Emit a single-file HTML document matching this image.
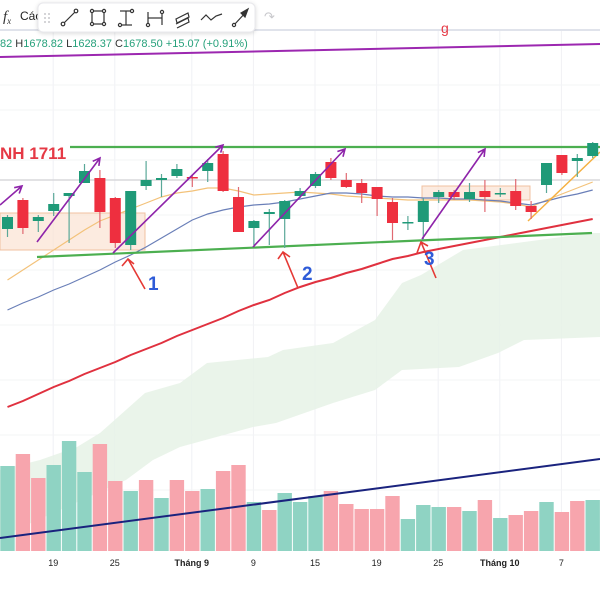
<!DOCTYPE html>
<html><head><meta charset="utf-8">
<style>
html,body{margin:0;padding:0;background:#fff;width:600px;height:600px;overflow:hidden;font-family:"Liberation Sans",sans-serif;}
#wrap{position:relative;width:600px;height:600px;}
svg{position:absolute;left:0;top:0;}
</style></head>
<body>
<div id="wrap">
<svg id="chart" width="600" height="600" viewBox="0 0 600 600">
  <g id="grid"></g>
  <polygon fill="#e6f2e6" opacity="0.85"
    points="600,233 592,233 463,250 421,275 402,283 375,320 333,343 283,350 268,357 207,363 180,383 145,393 100,433 77,447 40,460 0,470 0,537 60,510 126,480 153,460 180,447 253,427 276,423 333,403 375,390 402,370 459,367 498,353 524,340 600,337"/>
  <g id="volumes"></g>
  <line x1="0" y1="538" x2="600" y2="459" stroke="#1a237e" stroke-width="2"/>
  <rect x="0" y="213" width="145" height="37" fill="#fbe3d3" fill-opacity="0.7" stroke="#f0c0a0" stroke-width="1"/>
  <rect x="422" y="186" width="108" height="14" fill="#fbe3d3" fill-opacity="0.7" stroke="#f0c0a0" stroke-width="1"/>
  <line x1="0" y1="180" x2="600" y2="180" stroke="#d8d8dc" stroke-width="1.5"/>
  <g id="mas"></g>
  <line x1="70" y1="147" x2="600" y2="147" stroke="#4caf50" stroke-width="2.2"/>
  <line x1="37" y1="257" x2="592" y2="233" stroke="#4caf50" stroke-width="2.2"/>
  <line x1="0" y1="57" x2="600" y2="44" stroke="#9c27b0" stroke-width="2"/>
  <line x1="528" y1="221" x2="600" y2="152" stroke="#f5b041" stroke-width="1.5"/>
  <g id="candles"></g>
  <g id="arrows" stroke="#8e24aa" stroke-width="1.6" fill="none"></g>
  <g stroke="#e53935" stroke-width="1.6" fill="none">
    <path d="M145,289 L128,259 M122,266 L128,259 L134,264"/>
    <path d="M298,288 L283,252 M278,259 L283,252 L290,257"/>
    <path d="M436,278 L421,242 M417,253 L421,242 L428,246"/>
  </g>
  <text x="148" y="290" font-size="19" font-weight="bold" fill="#2e5bd8">1</text>
  <text x="302" y="280" font-size="19" font-weight="bold" fill="#2e5bd8">2</text>
  <text x="424" y="265" font-size="19" font-weight="bold" fill="#2e5bd8">3</text>
  <text x="0" y="159" font-size="17" font-weight="bold" fill="#e53945">NH 1711</text>
  <g id="xaxis"></g>
  <line x1="0" y1="30" x2="600" y2="30" stroke="#e0e3eb" stroke-width="2"/>
  <rect x="0" y="0" width="600" height="29" fill="#fff"/>
  <text x="441" y="33" font-size="14" fill="#e53945">g</text>
  <text x="3" y="21" font-size="15" fill="#333" font-family="Liberation Serif" font-style="italic">f<tspan font-size="9" dy="3">x</tspan></text>
  <text x="20" y="20" font-size="12" fill="#222">Các</text>
  <g>
    <rect x="38" y="3" width="217" height="29" rx="5" fill="#fff" stroke="#e8e8ec" filter="drop-shadow(0 1px 2px rgba(0,0,0,0.15))"/>
    <g fill="#c8c8cc"><circle cx="45" cy="14" r="1"/><circle cx="49" cy="14" r="1"/><circle cx="45" cy="18" r="1"/><circle cx="49" cy="18" r="1"/><circle cx="45" cy="22" r="1"/><circle cx="49" cy="22" r="1"/></g>
    <g stroke="#333" stroke-width="1.2" fill="#fff">
      <g><line x1="63" y1="24" x2="76" y2="11"/><circle cx="63" cy="24" r="1.8"/><circle cx="76" cy="11" r="1.8"/></g>
      <g><rect x="92" y="11" width="12" height="13" fill="none"/><circle cx="92" cy="11" r="1.6"/><circle cx="104" cy="11" r="1.6"/><circle cx="92" cy="24" r="1.6"/><circle cx="104" cy="24" r="1.6"/></g>
      <g><line x1="120" y1="11" x2="132" y2="11"/><line x1="120" y1="25" x2="132" y2="25"/><line x1="126" y1="11" x2="126" y2="25"/><circle cx="132" cy="11" r="1.6"/><circle cx="120" cy="25" r="1.6"/></g>
      <g><line x1="148" y1="12" x2="148" y2="25"/><line x1="162" y1="12" x2="162" y2="25"/><line x1="148" y1="18" x2="162" y2="18"/><circle cx="148" cy="25" r="1.6"/><circle cx="162" cy="12" r="1.6"/></g>
      <g fill="none"><path d="M176,19 L188,13 L189,17 L177,23 Z M176,24 L188,18 L189,22 L177,28"/></g>
      <g fill="none"><path d="M201,20 L206,15 L211,20 L216,16 L222,14"/></g>
      <g><line x1="234" y1="25" x2="247" y2="11"/><circle cx="234" cy="25" r="1.6"/><path d="M241,13 L248,9 L245,17 Z" fill="#333"/></g>
    </g>
  </g>
  <text x="264" y="21" font-size="13" fill="#c8c8cc">↷</text>
  <text x="0" y="47" font-size="11" fill="#26a17b">82 <tspan fill="#333">H</tspan>1678.82 <tspan fill="#333">L</tspan>1628.37 <tspan fill="#333">C</tspan>1678.50 +15.07 (+0.91%)</text>
</svg>
</div>
<script>
const opens  = [1571,1600,1579,1589,1604,1617,1622,1602,1555,1614,1620,1624,1623,1629,1646,1603,1572,1586,1581,1604,1614,1638,1620,1617,1613,1598,1577,1578,1603,1608,1601,1609,1606,1609,1594,1615,1645,1639,1644];
const highs  = [1585,1602,1585,1607,1607,1636,1630,1603,1609,1639,1626,1636,1625,1641,1649,1613,1580,1591,1600,1612,1628,1642,1627,1621,1613,1602,1584,1602,1610,1610,1617,1620,1612,1621,1599,1637,1645,1646,1658];
const lows   = [1563,1566,1568,1584,1557,1617,1572,1552,1550,1610,1603,1622,1613,1618,1608,1568,1555,1555,1552,1602,1612,1620,1612,1597,1584,1560,1570,1560,1597,1600,1598,1588,1603,1590,1581,1607,1625,1623,1642];
const closes = [1583,1572,1583,1596,1607,1629,1588,1557,1609,1620,1622,1631,1622,1637,1609,1568,1579,1588,1599,1609,1626,1622,1613,1607,1601,1577,1578,1599,1608,1603,1608,1603,1607,1594,1588,1637,1627,1642,1657];
const volumes = [85,97,73,86,110,79,107,70,60,71,53,71,60,62,80,86,49,41,58,49,55,60,47,42,42,55,32,46,44,44,40,51,33,36,40,49,39,50,51];
const volumeUp = [1,0,0,1,1,1,0,0,1,0,1,0,0,1,0,0,1,0,1,1,1,0,0,0,0,0,1,1,1,0,1,0,1,0,0,1,0,0,1];
const maLong  = [1393,1399,1406,1413,1419,1426,1432,1438,1445,1451,1457,1464,1470,1476,1482,1489,1495,1500,1507,1513,1518,1522,1527,1531,1536,1541,1544,1548,1551,1554,1557,1560,1563,1566,1569,1572,1575,1578,1581];
const maMid   = [1490,1497,1503,1510,1516,1523,1530,1538,1545,1553,1562,1571,1580,1586,1590,1593,1595,1596,1598,1601,1604,1607,1607,1606,1604,1603,1603,1602,1602,1601,1601,1600,1599,1597,1595,1599,1603,1606,1610];
const maShort = [1520,1530,1540,1550,1560,1570,1579,1585,1591,1597,1603,1607,1609,1612,1612,1609,1605,1606,1607,1608,1607,1606,1604,1603,1602,1601,1600,1600,1600,1600,1600,1599,1598,1596,1593,1600,1606,1612,1618];
const xTickIdx = [3,7,12,16,20,24,28,32,36];
const xTickLabels = ["19","25","Tháng 9","9","15","19","25","Tháng 10","7"];
const xTickBold = [0,0,1,0,0,0,0,1,0];

const NS='http://www.w3.org/2000/svg';
function xScale(i){return 7.5+15.4*i;}
function yScale(p){return 1800-p;}
function vScale(v){return 551-v;}
function mk(tag,attrs,parent){const e=document.createElementNS(NS,tag);for(const k in attrs)e.setAttribute(k,attrs[k]);parent.appendChild(e);return e;}

const grid=document.getElementById('grid');
xTickIdx.forEach((ix)=>{
  const g=mk('line',{x1:xScale(ix)-0.5,x2:xScale(ix)-0.5,y1:30,y2:551,stroke:'#f0f1f4','stroke-width':1},grid);
  
  
});
[85,110,160,215,270,325,380,435,490].forEach(y=>{
  const g=mk('line',{x1:0,x2:600,y1:y,y2:y,stroke:'#f3f4f6','stroke-width':1},grid);
  
  
});

const vg=document.getElementById('volumes');
volumes.forEach((v,i)=>{
  const r=mk('rect',{x:xScale(i)-7.2,y:vScale(v),width:14.4,height:v,fill:volumeUp[i]?'#8fd3c3':'#f7a5ad'},vg);
  
  
});

const mg=document.getElementById('mas');
function line(arr,color,w,name){
  const pts=arr.map((p,i)=>xScale(i)+','+yScale(p)).join(' ');
  const pl=mk('polyline',{points:pts,fill:'none',stroke:color,'stroke-width':w},mg);
  
  
}
line(maShort,'#f3c27a',1.2,'ma-short-line');
line(maMid,'#6a7fb8',1.2,'ma-mid-line');
line(maLong,'#e0313f',2,'ma-long-line');

const cg=document.getElementById('candles');
opens.forEach((o,i)=>{
  const c=closes[i],up=c>=o,col=up?'#1f9a78':'#ee2f3f';
  const x=xScale(i);
  const w=mk('line',{x1:x,x2:x,y1:yScale(highs[i]),y2:yScale(lows[i]),stroke:up?'#5aa898':'#e06a72','stroke-width':1.2},cg);
  
  
  const top=yScale(Math.max(o,c)),h=Math.max(1.5,Math.abs(c-o));
  const b=mk('rect',{x:x-5.5,y:top,width:11,height:h,fill:col},cg);
  
  
});

const ag=document.getElementById('arrows');
[[0,205,22,186],[37,242,100,158],[113,253,223,145],[253,247,345,149],[422,239,485,149]].forEach(a=>{
  const [x1,y1,x2,y2]=a,ang=Math.atan2(y2-y1,x2-x1),L=8;
  const p=mk('path',{d:`M${x1},${y1} L${x2},${y2} M${x2-L*Math.cos(ang-0.5)},${y2-L*Math.sin(ang-0.5)} L${x2},${y2} L${x2-L*Math.cos(ang+0.5)},${y2-L*Math.sin(ang+0.5)}`},ag);
  
  
});

const xa=document.getElementById('xaxis');
xTickIdx.forEach((ix,k)=>{
  const t=mk('text',{x:xScale(ix)-0.5,y:566,'font-size':9,'text-anchor':'middle',fill:'#222','font-weight':xTickBold[k]?'bold':'normal'},xa);
  t.textContent=xTickLabels[k];
  
  
});
</script>
</body></html>
